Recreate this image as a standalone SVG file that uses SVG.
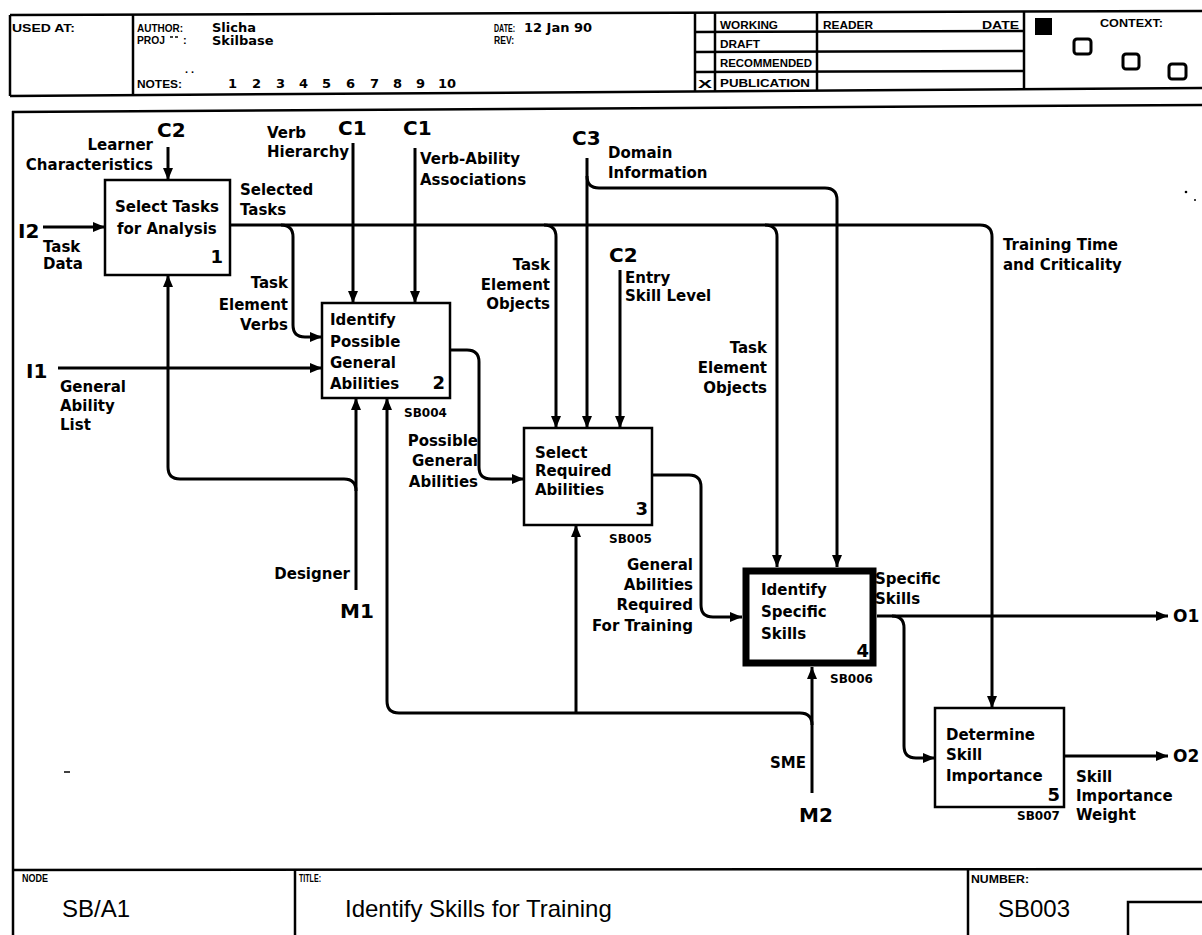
<svg xmlns="http://www.w3.org/2000/svg" width="1202" height="935" viewBox="0 0 1202 935">
<defs>
<marker id="ah" markerUnits="userSpaceOnUse" markerWidth="12" markerHeight="10" refX="12" refY="5" orient="auto">
<path d="M0,0 L12,5 L0,10 z" fill="#000"/>
</marker>
<style>
.ln{fill:none;stroke:#000;stroke-width:2.5}
.cn{fill:none;stroke:#000;stroke-width:3;marker-end:url(#ah)}
.bx{fill:#fff;stroke:#000;stroke-width:2.5}
.lb{font-family:"DejaVu Sans",sans-serif;font-weight:bold;font-size:15px;fill:#000}
.bt{font-family:"DejaVu Sans",sans-serif;font-weight:bold;font-size:15px;fill:#000}
.ic{font-family:"DejaVu Sans",sans-serif;font-weight:bold;font-size:20px;fill:#000}
.oc{font-family:"DejaVu Sans",sans-serif;font-weight:bold;font-size:17px;fill:#000}
.num{font-family:"DejaVu Sans",sans-serif;font-weight:bold;font-size:18px;fill:#000}
.sb{font-family:"DejaVu Sans",sans-serif;font-weight:bold;font-size:12px;fill:#000}
.hd{font-family:"Liberation Sans",sans-serif;font-weight:bold;font-size:11px;fill:#000}
.hv{font-family:"DejaVu Sans",sans-serif;font-weight:bold;font-size:13px;fill:#000}
.tt{font-family:"Liberation Sans",sans-serif;font-size:24px;fill:#000}
.r{text-anchor:end}
</style>
</defs>
<rect width="1202" height="935" fill="#fff"/>

<g id="header">
<line class="ln" x1="10" y1="15" x2="1202" y2="11"/>
<line class="ln" x1="10" y1="96" x2="1202" y2="88"/>
<line class="ln" x1="10" y1="15" x2="10" y2="96"/>
<line class="ln" x1="133" y1="14" x2="133" y2="95"/>
<line class="ln" x1="695" y1="12" x2="695" y2="91"/>
<line class="ln" x1="715" y1="12" x2="715" y2="91"/>
<line class="ln" x1="817" y1="12" x2="817" y2="90"/>
<line class="ln" x1="1024" y1="11" x2="1024" y2="89"/>
<line class="ln" x1="695" y1="32" x2="1024" y2="31"/>
<line class="ln" x1="695" y1="52" x2="1024" y2="51"/>
<line class="ln" x1="695" y1="72" x2="1024" y2="71"/>
<text class="hd" x="12" y="32" textLength="63" lengthAdjust="spacingAndGlyphs" font-size="13">USED AT:</text>
<text class="hd" x="137" y="32" textLength="46" lengthAdjust="spacingAndGlyphs">AUTHOR:</text>
<text class="hv" x="212" y="32">Slicha</text>
<text class="hd" x="137" y="44" textLength="28" lengthAdjust="spacingAndGlyphs">PROJ</text>
<line x1="170" y1="37" x2="173" y2="37" stroke="#000" stroke-width="1.5"/>
<line x1="175" y1="37" x2="178" y2="37" stroke="#000" stroke-width="1.5"/>
<text class="hd" x="183" y="44">:</text>
<text class="hv" x="212" y="45">Skilbase</text>
<text class="hd" x="185" y="73">. .</text>
<text class="hd" x="137" y="88" textLength="45" lengthAdjust="spacingAndGlyphs">NOTES:</text>
<text class="hv" x="228" y="88">1</text>
<text class="hv" x="252" y="88">2</text>
<text class="hv" x="276" y="88">3</text>
<text class="hv" x="299" y="88">4</text>
<text class="hv" x="322" y="88">5</text>
<text class="hv" x="346" y="88">6</text>
<text class="hv" x="370" y="88">7</text>
<text class="hv" x="393" y="88">8</text>
<text class="hv" x="416" y="88">9</text>
<text class="hv" x="438" y="88">10</text>
<text class="hd" x="494" y="32" textLength="21" lengthAdjust="spacingAndGlyphs">DATE:</text>
<text class="hv" x="524" y="32">12 Jan 90</text>
<text class="hd" x="494" y="44" textLength="20" lengthAdjust="spacingAndGlyphs">REV:</text>
<text class="hd" x="720" y="29" textLength="58" lengthAdjust="spacingAndGlyphs">WORKING</text>
<text class="hd" x="720" y="48" textLength="40" lengthAdjust="spacingAndGlyphs">DRAFT</text>
<text class="hd" x="720" y="67" textLength="92" lengthAdjust="spacingAndGlyphs">RECOMMENDED</text>
<text class="hd" x="720" y="87" textLength="90" lengthAdjust="spacingAndGlyphs">PUBLICATION</text>
<text class="hd" x="698" y="88" font-size="14" textLength="14" lengthAdjust="spacingAndGlyphs">X</text>
<text class="hd" x="823" y="29" textLength="50" lengthAdjust="spacingAndGlyphs">READER</text>
<text class="hd" x="982" y="29" textLength="37" lengthAdjust="spacingAndGlyphs">DATE</text>
<rect x="1035" y="18" width="17" height="17" fill="#000"/>
<text class="hd" x="1100" y="27" textLength="63" lengthAdjust="spacingAndGlyphs">CONTEXT:</text>
<rect x="1074" y="39" width="17" height="15" rx="3" fill="none" stroke="#000" stroke-width="3"/>
<rect x="1123" y="54" width="16" height="15" rx="3" fill="none" stroke="#000" stroke-width="3"/>
<rect x="1169" y="64" width="17" height="15" rx="3" fill="none" stroke="#000" stroke-width="3"/>
</g>

<g id="frame">
<line class="ln" x1="12" y1="112" x2="1202" y2="105"/>
<line class="ln" x1="13" y1="111" x2="13" y2="935"/>
<line class="ln" x1="13" y1="870" x2="1202" y2="869"/>
<line class="ln" x1="295" y1="870" x2="295" y2="935"/>
<line class="ln" x1="968" y1="869" x2="968" y2="935"/>
<path class="ln" d="M1202 902 H1128 V935"/>
<text class="hd" x="22" y="882" font-size="9" textLength="26" lengthAdjust="spacingAndGlyphs">NODE</text>
<text class="tt" x="62" y="917">SB/A1</text>
<text class="hd" x="299" y="882" font-size="9" textLength="22" lengthAdjust="spacingAndGlyphs">TITLE:</text>
<text class="tt" x="345" y="917">Identify Skills for Training</text>
<text class="hd" x="971" y="883" font-size="10" textLength="58" lengthAdjust="spacingAndGlyphs">NUMBER:</text>
<text class="tt" x="998" y="917">SB003</text>
<circle cx="1186" cy="192" r="1.3" fill="#000"/>
<circle cx="1195" cy="200" r="1" fill="#000"/>
<line x1="64" y1="772" x2="70" y2="772" stroke="#000" stroke-width="1.5"/>
</g>

<g id="connectors">
<path class="cn" d="M168 147 V180"/>
<path class="cn" d="M43 227 H105"/>
<path class="cn" d="M353 143 V303"/>
<path class="cn" d="M415 148 V303"/>
<path class="cn" d="M58 368 H322"/>
<path class="cn" d="M230 225 H980 Q992 225 992 237 V708"/>
<path class="cn" d="M281 225 Q293 225 293 237 V325 Q293 337 305 337 H322"/>
<path class="cn" d="M544 225 Q556 225 556 237 V428"/>
<path class="cn" d="M765 225 Q777 225 777 237 V567"/>
<path class="cn" d="M587 158 V428"/>
<path class="cn" d="M587 176 Q587 188 599 188 H825 Q837 188 837 200 V567"/>
<path class="cn" d="M620 270 V428"/>
<path class="cn" d="M450 350 H467 Q479 350 479 362 V467 Q479 479 491 479 H524"/>
<path class="cn" d="M652 475 H689 Q701 475 701 487 V605 Q701 617 713 617 H742"/>
<path class="cn" d="M877 616 H1168"/>
<path class="cn" d="M892 616 Q904 616 904 628 V746 Q904 758 916 758 H935"/>
<path class="cn" d="M1064 756 H1168"/>
<path class="cn" d="M356 590 V398"/>
<path class="cn" d="M356 491 Q356 479 344 479 H180 Q168 479 168 467 V275"/>
<path class="cn" d="M812 793 V667"/>
<path class="cn" d="M812 725 Q812 713 800 713 H399 Q387 713 387 701 V398"/>
<path class="cn" d="M576 713 V525"/>
</g>

<g id="labels">
<text class="ic" x="157" y="137">C2</text>
<text class="lb r" x="153" y="150">Learner</text>
<text class="lb r" x="153" y="170">Characteristics</text>
<text class="ic" x="18" y="238">I2</text>
<text class="lb" x="43" y="252">Task</text>
<text class="lb" x="43" y="269">Data</text>
<text class="lb" x="240" y="195">Selected</text>
<text class="lb" x="240" y="215">Tasks</text>
<text class="lb" x="267" y="138">Verb</text>
<text class="lb" x="267" y="157">Hierarchy</text>
<text class="ic" x="338" y="135">C1</text>
<text class="lb r" x="288" y="288">Task</text>
<text class="lb r" x="288" y="310">Element</text>
<text class="lb r" x="288" y="330">Verbs</text>
<text class="ic" x="26" y="378">I1</text>
<text class="lb" x="60" y="392">General</text>
<text class="lb" x="60" y="411">Ability</text>
<text class="lb" x="60" y="430">List</text>
<text class="ic" x="403" y="135">C1</text>
<text class="lb" x="420" y="164">Verb-Ability</text>
<text class="lb" x="420" y="185">Associations</text>
<text class="ic" x="572" y="145">C3</text>
<text class="lb" x="608" y="158">Domain</text>
<text class="lb" x="608" y="178">Information</text>
<text class="lb r" x="550" y="270">Task</text>
<text class="lb r" x="550" y="290">Element</text>
<text class="lb r" x="550" y="309">Objects</text>
<text class="ic" x="609" y="262">C2</text>
<text class="lb" x="625" y="283">Entry</text>
<text class="lb" x="625" y="301">Skill Level</text>
<text class="lb r" x="767" y="353">Task</text>
<text class="lb r" x="767" y="373">Element</text>
<text class="lb r" x="767" y="393">Objects</text>
<text class="lb" x="1003" y="250">Training Time</text>
<text class="lb" x="1003" y="270">and Criticality</text>
<text class="lb r" x="478" y="446">Possible</text>
<text class="lb r" x="478" y="466">General</text>
<text class="lb r" x="478" y="487">Abilities</text>
<text class="lb r" x="693" y="570">General</text>
<text class="lb r" x="693" y="590">Abilities</text>
<text class="lb r" x="693" y="610">Required</text>
<text class="lb r" x="693" y="631">For Training</text>
<text class="lb" x="875" y="584">Specific</text>
<text class="lb" x="875" y="604">Skills</text>
<text class="oc" x="1173" y="622">O1</text>
<text class="oc" x="1173" y="762">O2</text>
<text class="lb" x="1076" y="782">Skill</text>
<text class="lb" x="1076" y="801">Importance</text>
<text class="lb" x="1076" y="820">Weight</text>
<text class="lb r" x="350" y="579">Designer</text>
<text class="ic" x="340" y="618">M1</text>
<text class="lb r" x="806" y="768">SME</text>
<text class="ic" x="799" y="822">M2</text>
</g>

<g id="box1">
<rect class="bx" x="105" y="180" width="125" height="95"/>
<text class="bt" x="115" y="212">Select Tasks</text>
<text class="bt" x="117" y="234">for Analysis</text>
<text class="num r" x="223" y="263">1</text>
</g>
<g id="box2">
<rect class="bx" x="322" y="303" width="128" height="95"/>
<text class="bt" x="330" y="325">Identify</text>
<text class="bt" x="330" y="347">Possible</text>
<text class="bt" x="330" y="368">General</text>
<text class="bt" x="330" y="389">Abilities</text>
<text class="num r" x="445" y="389">2</text>
<text class="sb" x="404" y="417">SB004</text>
</g>
<g id="box3">
<rect class="bx" x="524" y="428" width="128" height="97"/>
<text class="bt" x="535" y="458">Select</text>
<text class="bt" x="535" y="476">Required</text>
<text class="bt" x="535" y="495">Abilities</text>
<text class="num r" x="648" y="515">3</text>
<text class="sb" x="609" y="543">SB005</text>
</g>
<g id="box4">
<rect x="746" y="571" width="127" height="92" fill="#fff" stroke="#000" stroke-width="7"/>
<text class="bt" x="761" y="595">Identify</text>
<text class="bt" x="761" y="617">Specific</text>
<text class="bt" x="761" y="639">Skills</text>
<text class="num r" x="869" y="657">4</text>
<text class="sb" x="830" y="683">SB006</text>
</g>
<g id="box5">
<rect class="bx" x="935" y="708" width="129" height="99"/>
<text class="bt" x="946" y="740">Determine</text>
<text class="bt" x="946" y="760">Skill</text>
<text class="bt" x="946" y="781">Importance</text>
<text class="num r" x="1060" y="801">5</text>
<text class="sb" x="1017" y="820">SB007</text>
</g>
</svg>
